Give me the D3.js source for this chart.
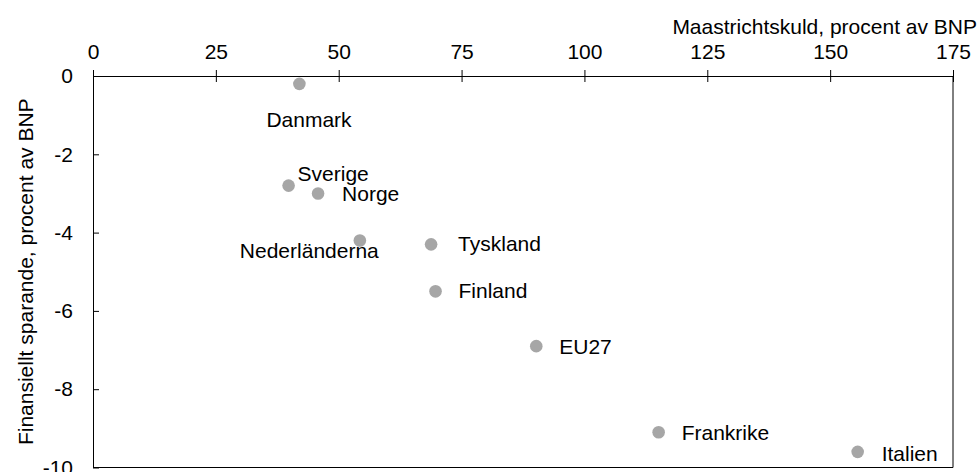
<!DOCTYPE html>
<html>
<head>
<meta charset="utf-8">
<script src="https://cdn.jsdelivr.net/npm/d3@7"></script>
<style>
  body { margin: 0; background: #fff; }
  svg text { font-family: Arial, "Liberation Sans", sans-serif; }
</style>
</head>
<body>
<div id="chart"></div>
<script>
// Data
const countries = ["Danmark", "Sverige", "Norge", "Nederländerna", "Tyskland", "Finland", "EU27", "Frankrike", "Italien"];
const debt = [42.0, 39.8, 45.8, 54.3, 68.8, 69.7, 90.2, 115.1, 155.6];
const saving = [-0.2, -2.8, -3.0, -4.2, -4.3, -5.5, -6.9, -9.1, -9.6];
const xTicks = [0, 25, 50, 75, 100, 125, 150, 175];
const yTicks = [0, -2, -4, -6, -8, -10];

// Label placement relative to each dot (dx to text start, dy to baseline)
const labelOffset = {
    "Danmark": [-33, 43],
    "Sverige": [9, -5],
    "Norge": [24, 8],
    "Nederländerna": [-120, 18],
    "Tyskland": [27, 7],
    "Finland": [23, 7],
    "EU27": [23, 8],
    "Frankrike": [23, 8],
    "Italien": [24, 9]
};

const viewW = 979;
const viewH = 472;
const margin = { top: 76, right: 26, bottom: 4.5, left: 93 };
const width = viewW - margin.left - margin.right;
const height = viewH - margin.top - margin.bottom;

const svg = d3.select("#chart")
    .append("svg")
    .attr("width", viewW)
    .attr("height", viewH);

const g = svg.append("g")
    .attr("transform", `translate(${margin.left},${margin.top})`);

const xScale = d3.scaleLinear().domain([0, 175]).range([0, width]);
const yScale = d3.scaleLinear().domain([-10, 0]).range([height, 0]);

// Frame (right and bottom)
g.append("line")
    .attr("x1", width).attr("x2", width)
    .attr("y1", 0).attr("y2", height)
    .attr("stroke", "#000");
g.append("line")
    .attr("x1", 0).attr("x2", width)
    .attr("y1", height).attr("y2", height)
    .attr("stroke", "#000");

// X axis on top, ticks crossing the line
const xAxis = g.append("g")
    .call(d3.axisTop(xScale).tickValues(xTicks).tickSize(6).tickPadding(11).tickSizeOuter(0));
xAxis.selectAll(".tick line").attr("y1", -6).attr("y2", 6);
xAxis.selectAll("text").style("font-size", "21px").attr("fill", "#000");

// Y axis, ticks pointing inward
const yAxis = g.append("g")
    .call(d3.axisLeft(yScale).tickValues(yTicks).tickSizeInner(-6).tickSizeOuter(0)
        .tickPadding(20).tickFormat(d => String(d)));
yAxis.selectAll("text").style("font-size", "21px").attr("fill", "#000");

// Points
const points = countries.map((c, i) => ({ name: c, x: debt[i], y: saving[i] }));

g.selectAll("circle")
    .data(points)
    .join("circle")
    .attr("cx", d => xScale(d.x))
    .attr("cy", d => yScale(d.y))
    .attr("r", 6.3)
    .attr("fill", "#a6a6a6");

g.selectAll(".label")
    .data(points)
    .join("text")
    .attr("class", "label")
    .attr("x", d => xScale(d.x) + labelOffset[d.name][0])
    .attr("y", d => yScale(d.y) + labelOffset[d.name][1])
    .style("font-size", "21px")
    .text(d => d.name);

// Axis titles
svg.append("text")
    .attr("x", 977)
    .attr("y", 34)
    .attr("text-anchor", "end")
    .style("font-size", "21px")
    .text("Maastrichtskuld, procent av BNP");

svg.append("text")
    .attr("transform", "rotate(-90)")
    .attr("x", -(margin.top + height / 2))
    .attr("y", 33)
    .attr("text-anchor", "middle")
    .style("font-size", "21px")
    .text("Finansiellt sparande, procent av BNP");
</script>
</body>
</html>
